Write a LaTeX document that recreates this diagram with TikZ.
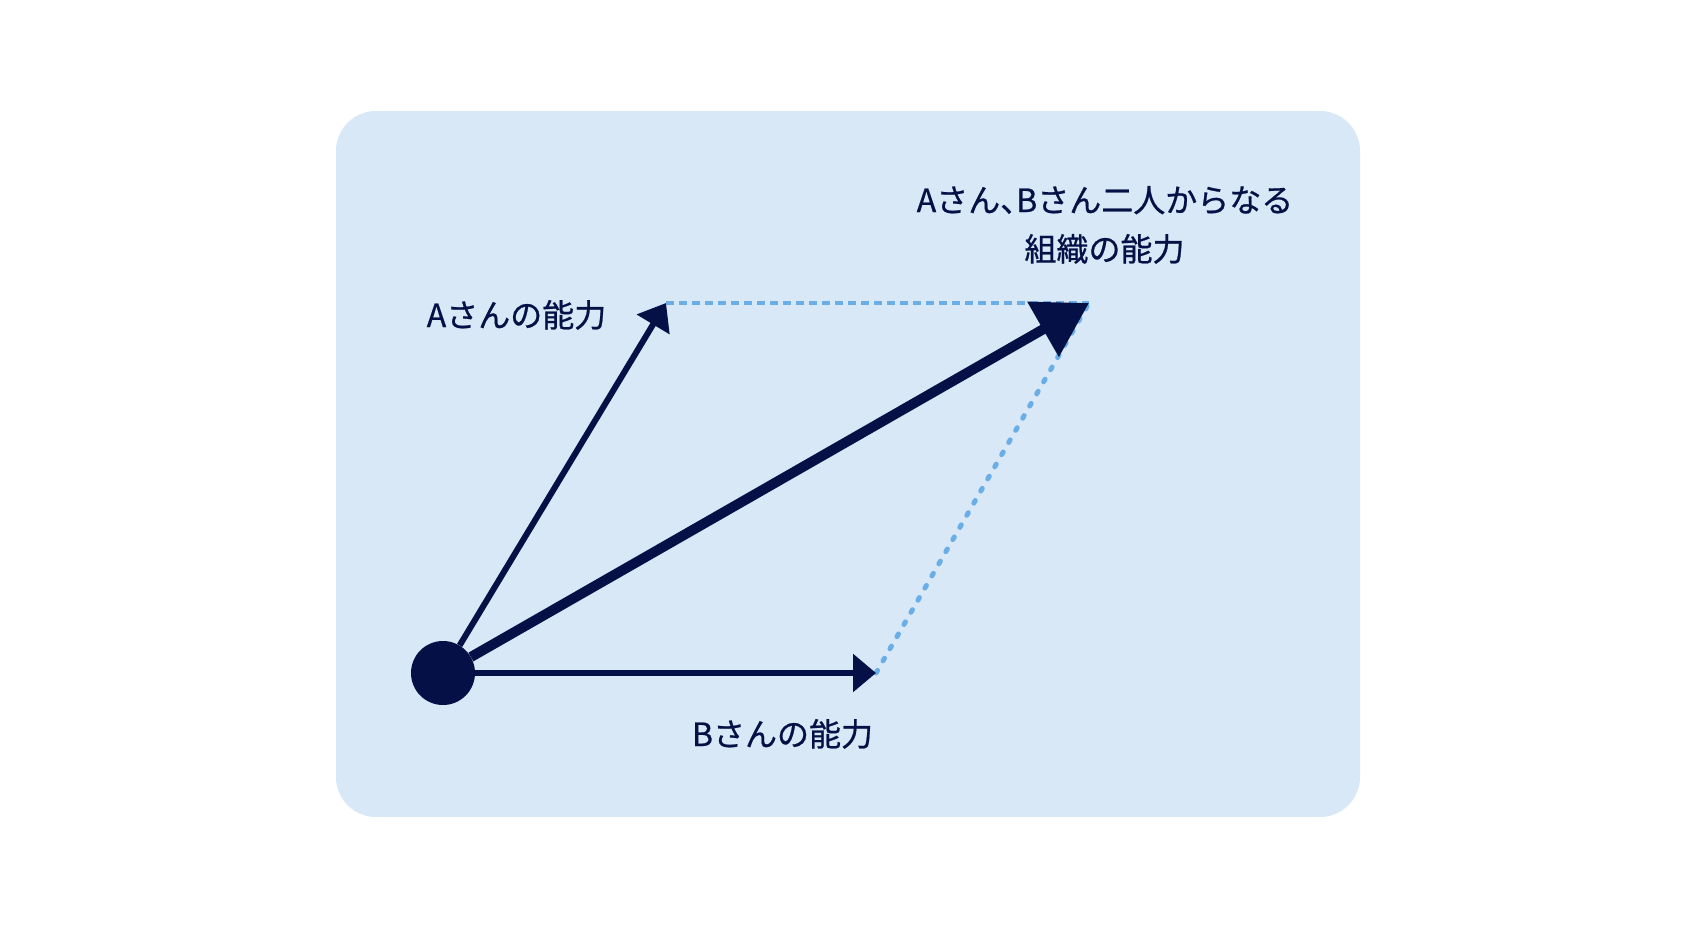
\documentclass[tikz,border=0pt]{standalone}
\usepackage{fontspec}
\setmainfont{Noto Sans CJK JP}
\newfontfamily\lblfont{Noto Sans CJK JP}[FakeBold=0.7]
\usetikzlibrary{arrows.meta}
\definecolor{navy}{RGB}{4,16,70}
\definecolor{bgblue}{RGB}{217,232,246}
\definecolor{dashblue}{RGB}{106,174,232}
\newcommand{\halfcomma}{{\addfontfeature{RawFeature=+halt}、}}
\begin{document}
\begin{tikzpicture}[x=1pt,y=-1pt,
  lbl/.style={text=navy, font=\lblfont\fontsize{32}{49}\selectfont, inner sep=0pt, anchor=base},
  vec/.style={navy, line width=6pt},
  helper/.style={dashblue, line width=3.5pt}]
\useasboundingbox (0,0) rectangle (1696,928);
\fill[bgblue, rounded corners=40pt] (336,111) rectangle (1360,817);
\coordinate (A) at (666,303);
\coordinate (B) at (876,673);
\coordinate (C) at (1089,303);
\node[circle, fill=navy, minimum size=64pt, inner sep=0pt] (O) at (443,673) {};
\draw[helper, dash pattern=on 8pt off 5pt] (A) -- (C);
\draw[helper, line width=5pt, line cap=round, dash pattern=on 3pt off 11pt] (B) -- (C);
\draw[vec, -{Triangle[length=25pt,width=37pt]}] (O) -- (A);
\draw[vec, -{Triangle[length=23pt,width=37pt]}] (O) -- (B);
\draw[vec, line width=10pt, -{Triangle[length=53pt,width=61pt]}] (O) -- (C);
\node[lbl] (la) at (516.5,327) {Aさんの能力};
\node[lbl] (lb) at (782.5,746) {Bさんの能力};
\node[lbl] (lc1) at (1105,212) {Aさん\halfcomma Bさん二人からなる};
\node[lbl] (lc2) at (1104.5,261) {組織の能力};
\end{tikzpicture}
\end{document}
